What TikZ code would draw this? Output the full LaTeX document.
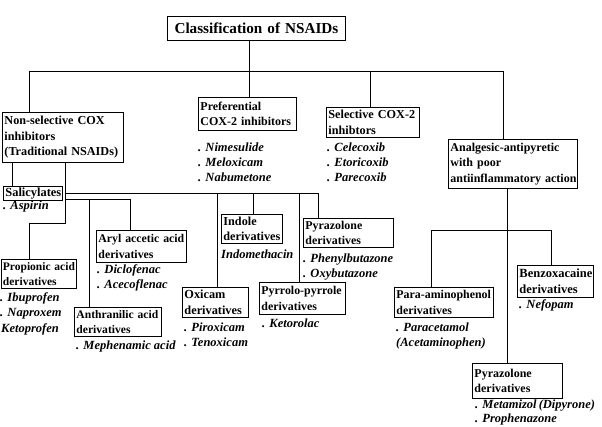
\documentclass[tikz,border=0pt]{standalone}
\usepackage{fontspec}
\setmainfont{Liberation Serif}
\begin{document}
\begin{tikzpicture}[x=1pt,y=-1pt,
  box/.style={draw, line width=0.9pt, anchor=north west, inner xsep=2pt, inner ysep=0pt,
    align=left, font=\fontsize{#1}{15.5}\selectfont\bfseries},
  item/.style={anchor=base west, inner sep=0pt, font=\fontsize{12.5}{15}\selectfont\bfseries\itshape},
  conn/.style={line width=0.9pt}]
\useasboundingbox[fill=white] (0,0) rectangle (602,426);

% boxes
\node[box=15.2, align=center, text width=174pt, minimum height=24pt] (title) at (167,16) {Classification of NSAIDs};
\node[box=12.2, text width=117pt, minimum height=50pt] (nonsel) at (2,112) {\mbox{Non-selective COX}\\\mbox{inhibitors}\\\mbox{(Traditional NSAIDs)}};
\node[box=12.0, text width=94pt, minimum height=33pt] (pref) at (198,97) {\mbox{Preferential}\\\mbox{COX-2 inhibitors}};
\node[box=12.2, text width=89pt, minimum height=30pt] (sel) at (326,107) {\mbox{Selective COX-2}\\\mbox{inhibtors}};
\node[box=12.0, text width=125pt, minimum height=49pt] (analg) at (448,139) {\mbox{Analgesic-antipyretic}\\\mbox{with poor}\\\mbox{antiinflammatory action}};
\node[box=12.4, text width=55pt, minimum height=14pt] (salic) at (3,186) {\mbox{Salicylates}};
\node[box=11.8, text width=86pt, minimum height=32pt] (aryl) at (96,230) {\mbox{Aryl accetic acid}\\\mbox{derivatives}};
\node[box=11.5, text width=71pt, minimum height=29pt] (prop) at (0.5,259) {\mbox{Propionic acid}\\\mbox{derivatives}};
\node[box=11.6, text width=83pt, minimum height=29pt] (anthr) at (74,307) {\mbox{Anthranilic acid}\\\mbox{derivatives}};
\node[box=12.3, text width=62pt, minimum height=30pt] (oxi) at (182,287) {\mbox{Oxicam}\\\mbox{derivatives}};
\node[box=11.9, text width=82pt, minimum height=32pt] (pyrr) at (259,282) {\mbox{Pyrrolo-pyrrole}\\\mbox{derivatives}};
\node[box=12.2, text width=57pt, minimum height=29pt] (indole) at (221,214) {\mbox{Indole}\\\mbox{derivatives}};
\node[box=11.9, text width=86pt, minimum height=29pt] (pyraz) at (303,218) {\mbox{Pyrazolone}\\\mbox{derivatives}};
\node[box=12.5, text width=72pt, minimum height=32pt] (benz) at (517,265) {\mbox{Benzoxacaine}\\\mbox{derivatives}};
\node[box=11.9, text width=95pt, minimum height=30pt] (para) at (394,287) {\mbox{Para-aminophenol}\\\mbox{derivatives}};
\node[box=12.0, text width=86pt, minimum height=35pt] (pyrazb) at (472,363) {\mbox{Pyrazolone}\\\mbox{derivatives}};

% items
\node[item] (i1) at (198,151) {. Nimesulide};
\node[item] (i2) at (198,166) {. Meloxicam};
\node[item] (i3) at (198,181) {. Nabumetone};
\node[item] (i4) at (327,151) {. Celecoxib};
\node[item] (i5) at (327,166) {. Etoricoxib};
\node[item] (i6) at (327,181) {. Parecoxib};
\node[item] (i7) at (3,209) {. Aspirin};
\node[item] (i8) at (221,258) {Indomethacin};
\node[item] (i9) at (303,262) {. Phenylbutazone};
\node[item] (i10) at (303,277) {. Oxybutazone};
\node[item] (i11) at (97,273) {. Diclofenac};
\node[item] (i12) at (97,288) {. Acecoflenac};
\node[item] (i13) at (0,301) {. Ibuprofen};
\node[item] (i14) at (0,316) {. Naproxem};
\node[item] (i15) at (1,332) {Ketoprofen};
\node[item] (i16) at (76,349) {. Mephenamic acid};
\node[item] (i17) at (184,331) {. Piroxicam};
\node[item] (i18) at (184,346) {. Tenoxicam};
\node[item] (i19) at (262,327) {. Ketorolac};
\node[item] (i20) at (519,308) {. Nefopam};
\node[item] (i21) at (396,331) {. Paracetamol};
\node[item] (i22) at (396,346) {(Acetaminophen)};
\node[item] (i23) at (475,408) {. Metamizol\,(Dipyrone)};
\node[item] (i24) at (475,422) {. Prophenazone};

% top level connectors
\coordinate (hL) at (29,71);
\coordinate (hT) at (249,71);
\coordinate (hS) at (370,71);
\coordinate (hR) at (503,71);
\draw[conn] (hL) -- (hR);
\draw[conn] (title.south -| hT) -- (hT |- pref.north);
\draw[conn] (hL) -- (hL |- nonsel.north);
\draw[conn] (hS) -- (hS |- sel.north);
\draw[conn] (hR) -- (hR |- analg.north);

% non-selective connectors
\coordinate (a1) at (12,180);
\draw[conn] (nonsel.south -| a1) -- (a1 |- salic.north);
\coordinate (b1) at (65,223);
\coordinate (b2) at (29,223);
\draw[conn] (nonsel.south -| b1) -- (b1) -- (b2) -- (b2 |- prop.north);
\coordinate (c0) at (65,193);
\coordinate (c1) at (318,193);
\coordinate (c2) at (217,193);
\coordinate (c3) at (253,193);
\coordinate (c4) at (299,193);
\draw[conn] (c0) -- (c1) -- (c1 |- pyraz.north);
\draw[conn] (c2) -- (c2 |- oxi.north);
\draw[conn] (c3) -- (c3 |- indole.north);
\draw[conn] (c4) -- (c4 |- pyrr.north);
\coordinate (d0) at (65,199);
\coordinate (d1) at (130,199);
\coordinate (d2) at (89,199);
\draw[conn] (d0) -- (d1) -- (d1 |- aryl.north);
\draw[conn] (d2) -- (d2 |- anthr.north);

% analgesic connectors
\coordinate (e0) at (507,230);
\coordinate (eL) at (431,230);
\coordinate (eR) at (551,230);
\draw[conn] (analg.south -| e0) -- (e0 |- pyrazb.north);
\draw[conn] (eL |- para.north) -- (eL) -- (eR) -- (eR |- benz.north);
\end{tikzpicture}
\end{document}
